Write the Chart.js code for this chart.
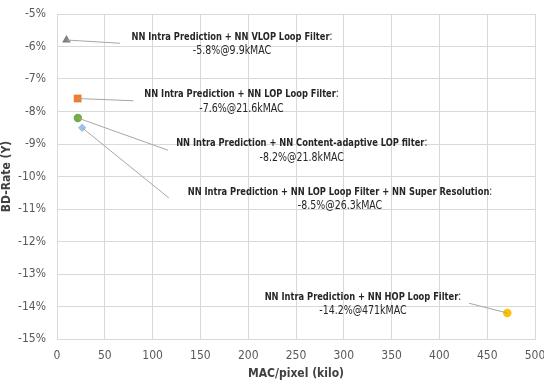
<!DOCTYPE html>
<html lang="en">
<head>
  <meta charset="UTF-8">
  <title>BD-Rate vs MAC/pixel</title>
  <script src="https://cdn.jsdelivr.net/npm/chart.js"></script>
  <style>
    html, body {
      margin: 0;
      padding: 0;
      background: #fff;
    }
    #wrap {
      width: 544px;
      height: 381px;
    }
  </style>
</head>
<body>
<div id="wrap">
  <canvas id="myChart" width="544" height="381"></canvas>
</div>

<script>
  // data
  const names = [
    'NN Intra Prediction + NN VLOP Loop Filter',
    'NN Intra Prediction + NN LOP Loop Filter',
    'NN Intra Prediction + NN Content-adaptive LOP filter',
    'NN Intra Prediction + NN LOP Loop Filter + NN Super Resolution',
    'NN Intra Prediction + NN HOP Loop Filter'
  ];
  const subTexts = ['-5.8%@9.9kMAC', '-7.6%@21.6kMAC', '-8.2%@21.8kMAC', '-8.5%@26.3kMAC', '-14.2%@471kMAC'];
  const macKilo = [9.9, 21.6, 21.8, 26.3, 471];
  const bdRate = [-5.8, -7.6, -8.2, -8.5, -14.2];
  const xTicks = [0, 50, 100, 150, 200, 250, 300, 350, 400, 450, 500];
  const yTicks = [-5, -6, -7, -8, -9, -10, -11, -12, -13, -14, -15];

  const colors = ['#7f7f7f', '#ed7d31', '#70ad47', '#9dc3e6', '#ffc000'];
  const shapes = ['triangle', 'rect', 'circle', 'rectRot', 'circle'];
  const sizes = [5, 5.5, 4.2, 4.2, 4.2];

  // where each label sits (data units): centre x, first line y, and leader end
  const labelPos = [
    {x: 183, y: -5.71, lx: 66, ly: -5.90},
    {x: 193, y: -7.47, lx: 80, ly: -7.67},
    {x: 256, y: -8.98, lx: 116, ly: -9.19},
    {x: 296, y: -10.47, lx: 117, ly: -10.66},
    {x: 320, y: -13.71, lx: 431, ly: -13.90}
  ];

  const FONT = "'DejaVu Sans Condensed', 'Liberation Sans', sans-serif";
  const SQUEEZE = 0.84;

  const labelPlugin = {
    id: 'pointLabels',
    afterDatasetsDraw(chart) {
      const c = chart.ctx;
      const xs = chart.scales.x, ys = chart.scales.y;
      c.save();
      // leader lines
      c.strokeStyle = '#a6a6a6';
      c.lineWidth = 1;
      for (let i = 0; i < names.length; i++) {
        const p = labelPos[i];
        c.beginPath();
        c.moveTo(xs.getPixelForValue(macKilo[i]), ys.getPixelForValue(bdRate[i]));
        c.lineTo(xs.getPixelForValue(p.lx), ys.getPixelForValue(p.ly));
        c.stroke();
      }
      // text, slightly condensed
      c.fillStyle = '#262626';
      c.textBaseline = 'middle';
      for (let i = 0; i < names.length; i++) {
        const p = labelPos[i];
        const cx = xs.getPixelForValue(p.x);
        const cy = ys.getPixelForValue(p.y);
        c.save();
        c.translate(cx, cy);
        c.scale(SQUEEZE, 1);
        c.font = 'bold 11px ' + FONT;
        const w1 = c.measureText(names[i]).width;
        c.font = '11.5px ' + FONT;
        const w2 = c.measureText(':').width;
        const left = -(w1 + w2) / 2;
        c.textAlign = 'left';
        c.font = 'bold 11px ' + FONT;
        c.fillText(names[i], left, 0);
        c.font = '11.5px ' + FONT;
        c.fillText(':', left + w1, 0);
        c.textAlign = 'center';
        c.font = '12.5px ' + FONT;
        c.fillText(subTexts[i], 0, 14);
        c.restore();
      }
      c.restore();
    }
  };

  const datasets = names.map((n, i) => ({
    label: n,
    data: [{x: macKilo[i], y: bdRate[i]}],
    pointStyle: shapes[i],
    pointRadius: sizes[i],
    backgroundColor: colors[i],
    borderColor: colors[i],
    borderWidth: 0
  }));

  const ctx = document.getElementById('myChart').getContext('2d');
  const myChart = new Chart(ctx, {
    type: 'scatter',
    data: { datasets: datasets },
    options: {
      responsive: false,
      animation: false,
      layout: { padding: { top: 14, right: 9, left: 0, bottom: 0 } },
      plugins: {
        legend: { display: false },
        tooltip: { enabled: false }
      },
      scales: {
        x: {
          type: 'linear',
          min: 0,
          max: 500,
          afterBuildTicks: axis => { axis.ticks = xTicks.map(v => ({value: v})); },
          afterFit: axis => {
            axis.height = 42;
            axis.paddingLeft = 0;
            axis.paddingRight = 0;
          },
          grid: { color: '#d9d9d9', drawTicks: false },
          border: { color: '#d9d9d9' },
          ticks: { color: '#595959', padding: 10, font: { family: FONT, size: 12 } },
          title: {
            display: true,
            text: 'MAC/pixel (kilo)',
            color: '#404040',
            padding: { top: 3, bottom: 0 },
            font: { family: FONT, size: 12, weight: 'bold' }
          }
        },
        y: {
          type: 'linear',
          min: -15,
          max: -5,
          afterBuildTicks: axis => { axis.ticks = yTicks.map(v => ({value: v})); },
          afterFit: axis => {
            axis.width = 57;
            axis.paddingTop = 0;
            axis.paddingBottom = 0;
          },
          grid: { color: '#d9d9d9', drawTicks: false },
          border: { color: '#d9d9d9' },
          ticks: {
            color: '#595959',
            padding: 11,
            font: { family: FONT, size: 12 },
            callback: v => v + '%'
          },
          title: {
            display: true,
            text: 'BD-Rate (Y)',
            color: '#404040',
            padding: { top: 0, bottom: 0 },
            font: { family: FONT, size: 12, weight: 'bold' }
          }
        }
      }
    },
    plugins: [labelPlugin]
  });
</script>
</body>
</html>
